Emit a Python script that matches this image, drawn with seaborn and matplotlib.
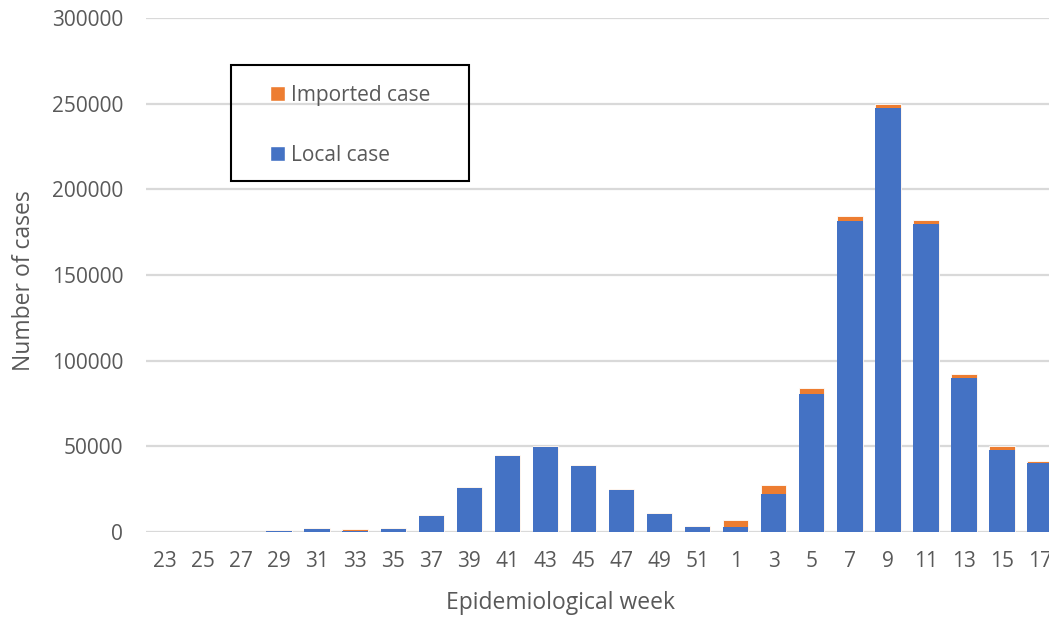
import matplotlib
matplotlib.use("Agg")
import matplotlib.pyplot as plt
from matplotlib.patches import Patch, Rectangle
import pandas as pd
import seaborn as sns

weeks = ["23", "25", "27", "29", "31", "33", "35", "37", "39", "41", "43", "45",
         "47", "49", "51", "1", "3", "5", "7", "9", "11", "13", "15", "17"]
local_case = [0, 0, 0, 400, 1500, 500, 1500, 9400, 25800, 44500, 49600, 38300,
              24500, 10300, 2800, 2700, 22300, 80300, 181800, 247200, 180000, 90000, 47800, 40200]
imported_case = [0, 0, 0, 1000, 1000, 1000, 1000, 500, 500, 600, 600, 800,
                 600, 600, 800, 4300, 5000, 3800, 2800, 2600, 2200, 2300, 2300, 1500]

BLUE = "#4472C4"
ORANGE = "#ED7D31"
TEXT = "#595959"

df = pd.DataFrame({"week": weeks, "local": local_case, "imported": imported_case})
df["total"] = df["local"] + df["imported"]

sns.set_theme(style="white")
plt.rcParams["font.family"] = ["Open Sans", "DejaVu Sans"]

W, H = 1049, 619
fig = plt.figure(figsize=(W / 100, H / 100), dpi=100)
# plot area runs a little past the right edge, as in the cropped original
ax = fig.add_axes([146 / W, (H - 532) / H, 913 / W, 514 / H])

# orange = total, blue (local) drawn over it -> stacked look
sns.barplot(data=df, x="week", y="total", color=ORANGE, saturation=1, width=0.67,
            edgecolor="white", linewidth=0.6, ax=ax)
sns.barplot(data=df, x="week", y="local", color=BLUE, saturation=1, width=0.67,
            edgecolor="none", linewidth=0, ax=ax)

ax.set_ylim(0, 300000)
ax.set_xlim(-0.5, len(weeks) - 0.5)
ax.set_yticks(range(0, 300001, 50000))
ax.yaxis.grid(True, color="#d9d9d9", linewidth=1.6)
ax.set_axisbelow(True)
for side in ["top", "right", "left", "bottom"]:
    ax.spines[side].set_visible(False)

ax.tick_params(axis="both", length=0, labelsize=15, colors=TEXT)
ax.tick_params(axis="x", pad=14)
ax.tick_params(axis="y", pad=16.5)

ax.set_xlabel("Epidemiological week", fontsize=16.5, color=TEXT)
ax.set_ylabel("Number of cases", fontsize=16.5, color=TEXT)
ax.xaxis.label.set_va("center")
ax.yaxis.label.set_va("center")
ax.xaxis.set_label_coords((561 - 146) / 913, (532 - 603) / 514)
ax.yaxis.set_label_coords((24 - 146) / 913, (532 - 281) / 514)

handles = [Patch(facecolor=ORANGE, label="Imported case"),
           Patch(facecolor=BLUE, label="Local case")]
leg = ax.legend(handles=handles, loc="upper left",
                bbox_to_anchor=(270 / W, 1 - 85 / H), bbox_transform=fig.transFigure,
                frameon=False, fontsize=15, labelcolor=TEXT,
                handlelength=0.7, handleheight=0.75, handletextpad=0.32,
                labelspacing=1.85, borderpad=0, borderaxespad=0)

fig.add_artist(Rectangle((231 / W, 1 - 181 / H), 238 / W, 116 / H,
                         transform=fig.transFigure, fill=False,
                         edgecolor="black", linewidth=1.5))

fig.savefig("out.png", dpi=100)
